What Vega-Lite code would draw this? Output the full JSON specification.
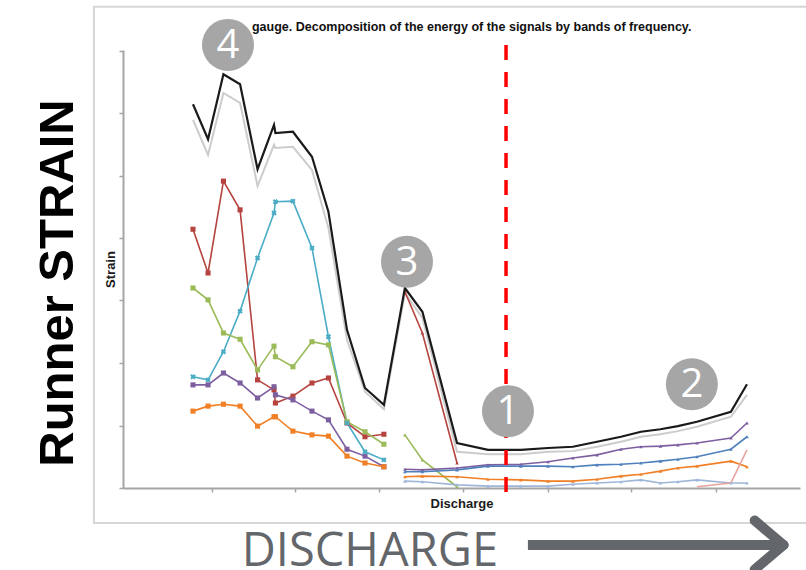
{
  "$schema": "https://vega.github.io/schema/vega-lite/v6.json",
  "width": 677,
  "height": 438,
  "autosize": {"type": "none"},
  "padding": {"left": 123, "top": 50, "right": 6, "bottom": 82},
  "background": "#ffffff",
  "config": {"view": {"stroke": null}, "font": "Liberation Sans"},
  "datasets": {
    "strain": [
      {"series": "Total", "part": 1, "discharge": 4.0, "strain": 6.14},
      {"series": "Total", "part": 1, "discharge": 4.86, "strain": 5.58},
      {"series": "Total", "part": 1, "discharge": 5.74, "strain": 6.62},
      {"series": "Total", "part": 1, "discharge": 6.69, "strain": 6.46},
      {"series": "Total", "part": 1, "discharge": 7.69, "strain": 5.10},
      {"series": "Total", "part": 1, "discharge": 8.63, "strain": 5.81},
      {"series": "Total", "part": 1, "discharge": 8.71, "strain": 5.68},
      {"series": "Total", "part": 1, "discharge": 9.71, "strain": 5.70},
      {"series": "Total", "part": 1, "discharge": 10.8, "strain": 5.30},
      {"series": "Total", "part": 1, "discharge": 11.74, "strain": 4.42},
      {"series": "Total", "part": 1, "discharge": 12.8, "strain": 2.53},
      {"series": "Total", "part": 1, "discharge": 13.83, "strain": 1.60},
      {"series": "Total", "part": 1, "discharge": 14.91, "strain": 1.33},
      {"series": "Total", "part": 2, "discharge": 16.11, "strain": 3.20},
      {"series": "Total", "part": 2, "discharge": 17.11, "strain": 2.82},
      {"series": "Total", "part": 2, "discharge": 19.09, "strain": 0.72},
      {"series": "Total", "part": 2, "discharge": 20.86, "strain": 0.61},
      {"series": "Total", "part": 2, "discharge": 22.74, "strain": 0.61},
      {"series": "Total", "part": 2, "discharge": 24.29, "strain": 0.64},
      {"series": "Total", "part": 2, "discharge": 25.71, "strain": 0.66},
      {"series": "Total", "part": 2, "discharge": 27.09, "strain": 0.74},
      {"series": "Total", "part": 2, "discharge": 28.46, "strain": 0.82},
      {"series": "Total", "part": 2, "discharge": 29.6, "strain": 0.90},
      {"series": "Total", "part": 2, "discharge": 30.71, "strain": 0.94},
      {"series": "Total", "part": 2, "discharge": 31.71, "strain": 0.99},
      {"series": "Total", "part": 2, "discharge": 32.8, "strain": 1.06},
      {"series": "Total", "part": 2, "discharge": 34.74, "strain": 1.22},
      {"series": "Total", "part": 2, "discharge": 35.66, "strain": 1.66},

      {"series": "Total, filtered", "part": 1, "discharge": 4.0, "strain": 5.89},
      {"series": "Total, filtered", "part": 1, "discharge": 4.86, "strain": 5.33},
      {"series": "Total, filtered", "part": 1, "discharge": 5.74, "strain": 6.32},
      {"series": "Total, filtered", "part": 1, "discharge": 6.69, "strain": 6.16},
      {"series": "Total, filtered", "part": 1, "discharge": 7.69, "strain": 4.83},
      {"series": "Total, filtered", "part": 1, "discharge": 8.63, "strain": 5.49},
      {"series": "Total, filtered", "part": 1, "discharge": 8.71, "strain": 5.44},
      {"series": "Total, filtered", "part": 1, "discharge": 9.71, "strain": 5.46},
      {"series": "Total, filtered", "part": 1, "discharge": 10.8, "strain": 5.09},
      {"series": "Total, filtered", "part": 1, "discharge": 11.74, "strain": 4.16},
      {"series": "Total, filtered", "part": 1, "discharge": 12.8, "strain": 2.37},
      {"series": "Total, filtered", "part": 1, "discharge": 13.83, "strain": 1.54},
      {"series": "Total, filtered", "part": 1, "discharge": 14.91, "strain": 1.26},
      {"series": "Total, filtered", "part": 2, "discharge": 16.11, "strain": 3.12},
      {"series": "Total, filtered", "part": 2, "discharge": 17.11, "strain": 2.72},
      {"series": "Total, filtered", "part": 2, "discharge": 19.09, "strain": 0.58},
      {"series": "Total, filtered", "part": 2, "discharge": 20.86, "strain": 0.54},
      {"series": "Total, filtered", "part": 2, "discharge": 22.74, "strain": 0.54},
      {"series": "Total, filtered", "part": 2, "discharge": 24.29, "strain": 0.58},
      {"series": "Total, filtered", "part": 2, "discharge": 25.71, "strain": 0.59},
      {"series": "Total, filtered", "part": 2, "discharge": 27.09, "strain": 0.66},
      {"series": "Total, filtered", "part": 2, "discharge": 28.46, "strain": 0.74},
      {"series": "Total, filtered", "part": 2, "discharge": 29.6, "strain": 0.82},
      {"series": "Total, filtered", "part": 2, "discharge": 30.71, "strain": 0.86},
      {"series": "Total, filtered", "part": 2, "discharge": 31.71, "strain": 0.91},
      {"series": "Total, filtered", "part": 2, "discharge": 32.8, "strain": 0.98},
      {"series": "Total, filtered", "part": 2, "discharge": 34.74, "strain": 1.14},
      {"series": "Total, filtered", "part": 2, "discharge": 35.66, "strain": 1.49},

      {"series": "Band 1", "part": 1, "discharge": 4.0, "strain": 4.14},
      {"series": "Band 1", "part": 1, "discharge": 4.86, "strain": 3.44},
      {"series": "Band 1", "part": 1, "discharge": 5.74, "strain": 4.91},
      {"series": "Band 1", "part": 1, "discharge": 6.69, "strain": 4.45},
      {"series": "Band 1", "part": 1, "discharge": 7.69, "strain": 1.73},
      {"series": "Band 1", "part": 1, "discharge": 8.63, "strain": 1.57},
      {"series": "Band 1", "part": 1, "discharge": 8.71, "strain": 1.36},
      {"series": "Band 1", "part": 1, "discharge": 9.71, "strain": 1.47},
      {"series": "Band 1", "part": 1, "discharge": 10.8, "strain": 1.68},
      {"series": "Band 1", "part": 1, "discharge": 11.74, "strain": 1.76},
      {"series": "Band 1", "part": 1, "discharge": 12.8, "strain": 1.04},
      {"series": "Band 1", "part": 1, "discharge": 13.83, "strain": 0.82},
      {"series": "Band 1", "part": 1, "discharge": 14.91, "strain": 0.86},
      {"series": "Band 1", "part": 2, "discharge": 16.11, "strain": 3.14},
      {"series": "Band 1", "part": 2, "discharge": 17.11, "strain": 2.48},
      {"series": "Band 1", "part": 2, "discharge": 19.09, "strain": 0.40},

      {"series": "Band 2", "part": 1, "discharge": 4.0, "strain": 1.78},
      {"series": "Band 2", "part": 1, "discharge": 4.86, "strain": 1.73},
      {"series": "Band 2", "part": 1, "discharge": 5.74, "strain": 2.18},
      {"series": "Band 2", "part": 1, "discharge": 6.69, "strain": 2.83},
      {"series": "Band 2", "part": 1, "discharge": 7.69, "strain": 3.68},
      {"series": "Band 2", "part": 1, "discharge": 8.63, "strain": 4.40},
      {"series": "Band 2", "part": 1, "discharge": 8.71, "strain": 4.58},
      {"series": "Band 2", "part": 1, "discharge": 9.71, "strain": 4.59},
      {"series": "Band 2", "part": 1, "discharge": 10.8, "strain": 3.84},
      {"series": "Band 2", "part": 1, "discharge": 11.74, "strain": 2.42},
      {"series": "Band 2", "part": 1, "discharge": 12.8, "strain": 1.04},
      {"series": "Band 2", "part": 1, "discharge": 13.83, "strain": 0.58},
      {"series": "Band 2", "part": 1, "discharge": 14.91, "strain": 0.45},

      {"series": "Band 3", "part": 1, "discharge": 4.0, "strain": 3.20},
      {"series": "Band 3", "part": 1, "discharge": 4.86, "strain": 3.01},
      {"series": "Band 3", "part": 1, "discharge": 5.74, "strain": 2.48},
      {"series": "Band 3", "part": 1, "discharge": 6.69, "strain": 2.38},
      {"series": "Band 3", "part": 1, "discharge": 7.69, "strain": 1.89},
      {"series": "Band 3", "part": 1, "discharge": 8.63, "strain": 2.27},
      {"series": "Band 3", "part": 1, "discharge": 8.71, "strain": 2.10},
      {"series": "Band 3", "part": 1, "discharge": 9.71, "strain": 1.94},
      {"series": "Band 3", "part": 1, "discharge": 10.8, "strain": 2.34},
      {"series": "Band 3", "part": 1, "discharge": 11.74, "strain": 2.29},
      {"series": "Band 3", "part": 1, "discharge": 12.8, "strain": 1.06},
      {"series": "Band 3", "part": 1, "discharge": 13.83, "strain": 0.90},
      {"series": "Band 3", "part": 1, "discharge": 14.91, "strain": 0.70},
      {"series": "Band 3", "part": 2, "discharge": 16.11, "strain": 0.85},
      {"series": "Band 3", "part": 2, "discharge": 17.11, "strain": 0.45},
      {"series": "Band 3", "part": 2, "discharge": 19.09, "strain": 0.02},

      {"series": "Band 4", "part": 1, "discharge": 4.0, "strain": 1.65},
      {"series": "Band 4", "part": 1, "discharge": 4.86, "strain": 1.65},
      {"series": "Band 4", "part": 1, "discharge": 5.74, "strain": 1.84},
      {"series": "Band 4", "part": 1, "discharge": 6.69, "strain": 1.68},
      {"series": "Band 4", "part": 1, "discharge": 7.69, "strain": 1.44},
      {"series": "Band 4", "part": 1, "discharge": 8.63, "strain": 1.62},
      {"series": "Band 4", "part": 1, "discharge": 8.71, "strain": 1.49},
      {"series": "Band 4", "part": 1, "discharge": 9.71, "strain": 1.41},
      {"series": "Band 4", "part": 1, "discharge": 10.8, "strain": 1.23},
      {"series": "Band 4", "part": 1, "discharge": 11.74, "strain": 1.09},
      {"series": "Band 4", "part": 1, "discharge": 12.8, "strain": 0.62},
      {"series": "Band 4", "part": 1, "discharge": 13.83, "strain": 0.51},
      {"series": "Band 4", "part": 1, "discharge": 14.91, "strain": 0.34},
      {"series": "Band 4", "part": 2, "discharge": 16.11, "strain": 0.30},
      {"series": "Band 4", "part": 2, "discharge": 17.11, "strain": 0.29},
      {"series": "Band 4", "part": 2, "discharge": 19.09, "strain": 0.32},
      {"series": "Band 4", "part": 2, "discharge": 20.86, "strain": 0.37},
      {"series": "Band 4", "part": 2, "discharge": 22.74, "strain": 0.38},
      {"series": "Band 4", "part": 2, "discharge": 24.29, "strain": 0.42},
      {"series": "Band 4", "part": 2, "discharge": 25.71, "strain": 0.48},
      {"series": "Band 4", "part": 2, "discharge": 27.09, "strain": 0.53},
      {"series": "Band 4", "part": 2, "discharge": 28.46, "strain": 0.62},
      {"series": "Band 4", "part": 2, "discharge": 29.6, "strain": 0.66},
      {"series": "Band 4", "part": 2, "discharge": 30.71, "strain": 0.67},
      {"series": "Band 4", "part": 2, "discharge": 31.71, "strain": 0.69},
      {"series": "Band 4", "part": 2, "discharge": 32.8, "strain": 0.72},
      {"series": "Band 4", "part": 2, "discharge": 34.74, "strain": 0.80},
      {"series": "Band 4", "part": 2, "discharge": 35.66, "strain": 1.04},

      {"series": "Band 5", "part": 1, "discharge": 4.0, "strain": 1.23},
      {"series": "Band 5", "part": 1, "discharge": 4.86, "strain": 1.31},
      {"series": "Band 5", "part": 1, "discharge": 5.74, "strain": 1.34},
      {"series": "Band 5", "part": 1, "discharge": 6.69, "strain": 1.31},
      {"series": "Band 5", "part": 1, "discharge": 7.69, "strain": 0.99},
      {"series": "Band 5", "part": 1, "discharge": 8.63, "strain": 1.14},
      {"series": "Band 5", "part": 1, "discharge": 8.71, "strain": 1.14},
      {"series": "Band 5", "part": 1, "discharge": 9.71, "strain": 0.91},
      {"series": "Band 5", "part": 1, "discharge": 10.8, "strain": 0.85},
      {"series": "Band 5", "part": 1, "discharge": 11.74, "strain": 0.83},
      {"series": "Band 5", "part": 1, "discharge": 12.8, "strain": 0.51},
      {"series": "Band 5", "part": 1, "discharge": 13.83, "strain": 0.40},
      {"series": "Band 5", "part": 1, "discharge": 14.91, "strain": 0.34},
      {"series": "Band 5", "part": 2, "discharge": 16.11, "strain": 0.18},
      {"series": "Band 5", "part": 2, "discharge": 17.11, "strain": 0.19},
      {"series": "Band 5", "part": 2, "discharge": 19.09, "strain": 0.18},
      {"series": "Band 5", "part": 2, "discharge": 20.86, "strain": 0.14},
      {"series": "Band 5", "part": 2, "discharge": 22.74, "strain": 0.13},
      {"series": "Band 5", "part": 2, "discharge": 24.29, "strain": 0.11},
      {"series": "Band 5", "part": 2, "discharge": 25.71, "strain": 0.11},
      {"series": "Band 5", "part": 2, "discharge": 27.09, "strain": 0.14},
      {"series": "Band 5", "part": 2, "discharge": 28.46, "strain": 0.19},
      {"series": "Band 5", "part": 2, "discharge": 29.6, "strain": 0.22},
      {"series": "Band 5", "part": 2, "discharge": 30.71, "strain": 0.27},
      {"series": "Band 5", "part": 2, "discharge": 31.71, "strain": 0.32},
      {"series": "Band 5", "part": 2, "discharge": 32.8, "strain": 0.35},
      {"series": "Band 5", "part": 2, "discharge": 34.74, "strain": 0.43},
      {"series": "Band 5", "part": 2, "discharge": 35.66, "strain": 0.34},

      {"series": "Band 6", "part": 2, "discharge": 16.11, "strain": 0.26},
      {"series": "Band 6", "part": 2, "discharge": 17.11, "strain": 0.26},
      {"series": "Band 6", "part": 2, "discharge": 19.09, "strain": 0.29},
      {"series": "Band 6", "part": 2, "discharge": 20.86, "strain": 0.35},
      {"series": "Band 6", "part": 2, "discharge": 22.74, "strain": 0.35},
      {"series": "Band 6", "part": 2, "discharge": 24.29, "strain": 0.35},
      {"series": "Band 6", "part": 2, "discharge": 25.71, "strain": 0.34},
      {"series": "Band 6", "part": 2, "discharge": 27.09, "strain": 0.37},
      {"series": "Band 6", "part": 2, "discharge": 28.46, "strain": 0.38},
      {"series": "Band 6", "part": 2, "discharge": 29.6, "strain": 0.40},
      {"series": "Band 6", "part": 2, "discharge": 30.71, "strain": 0.43},
      {"series": "Band 6", "part": 2, "discharge": 31.71, "strain": 0.46},
      {"series": "Band 6", "part": 2, "discharge": 32.8, "strain": 0.50},
      {"series": "Band 6", "part": 2, "discharge": 34.74, "strain": 0.62},
      {"series": "Band 6", "part": 2, "discharge": 35.66, "strain": 0.82},

      {"series": "Band 7", "part": 2, "discharge": 16.11, "strain": 0.11},
      {"series": "Band 7", "part": 2, "discharge": 17.11, "strain": 0.10},
      {"series": "Band 7", "part": 2, "discharge": 19.09, "strain": 0.05},
      {"series": "Band 7", "part": 2, "discharge": 20.86, "strain": 0.03},
      {"series": "Band 7", "part": 2, "discharge": 22.74, "strain": 0.03},
      {"series": "Band 7", "part": 2, "discharge": 24.29, "strain": 0.03},
      {"series": "Band 7", "part": 2, "discharge": 25.71, "strain": 0.06},
      {"series": "Band 7", "part": 2, "discharge": 27.09, "strain": 0.08},
      {"series": "Band 7", "part": 2, "discharge": 28.46, "strain": 0.10},
      {"series": "Band 7", "part": 2, "discharge": 29.6, "strain": 0.13},
      {"series": "Band 7", "part": 2, "discharge": 30.71, "strain": 0.08},
      {"series": "Band 7", "part": 2, "discharge": 31.71, "strain": 0.10},
      {"series": "Band 7", "part": 2, "discharge": 32.8, "strain": 0.13},
      {"series": "Band 7", "part": 2, "discharge": 34.74, "strain": 0.08},
      {"series": "Band 7", "part": 2, "discharge": 35.66, "strain": 0.08},

      {"series": "Band 8", "part": 2, "discharge": 32.8, "strain": 0.02},
      {"series": "Band 8", "part": 2, "discharge": 34.74, "strain": 0.08},
      {"series": "Band 8", "part": 2, "discharge": 35.66, "strain": 0.61}
    ],
    "callouts": [
      {"label": "4", "discharge": 6.0, "strain": 7.09},
      {"label": "3", "discharge": 16.23, "strain": 3.62},
      {"label": "1", "discharge": 22.0, "strain": 1.23},
      {"label": "2", "discharge": 32.51, "strain": 1.66}
    ]
  },
  "layer": [
    {
      "data": {"values": [{}]},
      "mark": {"type": "rect", "fill": "#ffffff", "fillOpacity": 0, "stroke": "#d6d6d6", "strokeWidth": 2},
      "encoding": {
        "x": {"datum": -1.66},
        "x2": {"datum": 40},
        "y": {"datum": 7.7},
        "y2": {"datum": -0.56}
      }
    },
    {
      "data": {"name": "strain"},
      "transform": [{"filter": "datum.series == 'Total, filtered'"}],
      "mark": {"type": "line", "color": "#cccccc", "strokeWidth": 2},
      "encoding": {
        "x": {
          "field": "discharge",
          "type": "quantitative",
          "scale": {"domain": [0, 38.69], "nice": false, "zero": false},
          "axis": {
            "title": "Discharge",
            "titleFont": "Liberation Sans",
            "titleFontSize": 13,
            "titleFontWeight": "bold",
            "titleColor": "#1a1a1a",
            "titlePadding": 5,
            "labels": false,
            "grid": false,
            "domainColor": "#a6a6a6",
            "domainWidth": 2,
            "tickColor": "#a6a6a6",
            "tickSize": 4,
            "tickWidth": 1.5,
            "values": [5.1, 9.85, 14.65, 19.45, 24.3, 29.05, 33.9]
          }
        },
        "y": {
          "field": "strain",
          "type": "quantitative",
          "scale": {"domain": [0, 7.008], "nice": false, "zero": false},
          "axis": {
            "title": "Strain",
            "titleFont": "Liberation Sans",
            "titleFontSize": 13,
            "titleFontWeight": "bold",
            "titleColor": "#1a1a1a",
            "titlePadding": 1,
            "labels": false,
            "grid": false,
            "domainColor": "#a6a6a6",
            "domainWidth": 2,
            "tickColor": "#a6a6a6",
            "tickSize": 4,
            "tickWidth": 1.5,
            "values": [0, 1, 2, 3, 4, 5, 6, 7]
          }
        }
      }
    },
    {
      "data": {"name": "strain"},
      "transform": [{"filter": "indexof(datum.series, 'Band') == 0"}],
      "mark": {"type": "line", "strokeWidth": 1.6},
      "encoding": {
        "x": {"field": "discharge", "type": "quantitative"},
        "y": {"field": "strain", "type": "quantitative"},
        "color": {
          "field": "series",
          "type": "nominal",
          "legend": null,
          "scale": {
            "domain": ["Band 1", "Band 2", "Band 3", "Band 4", "Band 5", "Band 6", "Band 7", "Band 8"],
            "range": ["#b5443f", "#4bacc6", "#9bbb59", "#7d5fa0", "#f07f26", "#4f81bd", "#9fb6d8", "#e8a39e"]
          }
        },
        "detail": {"field": "part", "type": "nominal"}
      }
    },
    {
      "data": {"name": "strain"},
      "transform": [{"filter": "indexof(datum.series, 'Band') == 0 && datum.part == 1 && datum.series != 'Band 2'"}],
      "mark": {"type": "point", "shape": "square", "filled": true, "size": 26, "opacity": 1},
      "encoding": {
        "x": {"field": "discharge", "type": "quantitative"},
        "y": {"field": "strain", "type": "quantitative"},
        "color": {"field": "series", "type": "nominal", "legend": null}
      }
    },
    {
      "data": {"name": "strain"},
      "transform": [{"filter": "datum.series == 'Band 2'"}],
      "mark": {"type": "point", "shape": "cross", "angle": 45, "filled": true, "size": 30, "opacity": 1},
      "encoding": {
        "x": {"field": "discharge", "type": "quantitative"},
        "y": {"field": "strain", "type": "quantitative"},
        "color": {"field": "series", "type": "nominal", "legend": null}
      }
    },
    {
      "data": {"name": "strain"},
      "transform": [{"filter": "indexof(datum.series, 'Band') == 0 && datum.part == 2 && datum.series != 'Band 8'"}],
      "mark": {"type": "point", "shape": "triangle-up", "filled": true, "size": 14, "opacity": 1},
      "encoding": {
        "x": {"field": "discharge", "type": "quantitative"},
        "y": {"field": "strain", "type": "quantitative"},
        "color": {"field": "series", "type": "nominal", "legend": null}
      }
    },
    {
      "data": {"name": "strain"},
      "transform": [{"filter": "datum.series == 'Total'"}],
      "mark": {"type": "line", "color": "#1a1a1a", "strokeWidth": 2.2},
      "encoding": {
        "x": {"field": "discharge", "type": "quantitative"},
        "y": {"field": "strain", "type": "quantitative"}
      }
    },
    {
      "data": {"values": [{}]},
      "mark": {"type": "rule", "color": "#ff0000", "strokeWidth": 3.5, "strokeDash": [15, 12]},
      "encoding": {
        "x": {"datum": 21.89},
        "y": {"datum": 7.09},
        "y2": {"datum": -0.11}
      }
    },
    {
      "data": {"values": [{}]},
      "mark": {
        "type": "text",
        "text": "gauge. Decomposition of the energy of the signals by bands of frequency.",
        "align": "left",
        "baseline": "alphabetic",
        "font": "Liberation Sans",
        "fontSize": 12.5,
        "fontWeight": "bold",
        "color": "#111111"
      },
      "encoding": {
        "x": {"datum": 7.37},
        "y": {"datum": 7.31}
      }
    },
    {
      "data": {"name": "callouts"},
      "mark": {"type": "point", "shape": "circle", "filled": true, "size": 2704, "color": "#a6a6a6", "opacity": 1},
      "encoding": {
        "x": {"field": "discharge", "type": "quantitative"},
        "y": {"field": "strain", "type": "quantitative"}
      }
    },
    {
      "data": {"name": "callouts"},
      "mark": {"type": "text", "color": "#ffffff", "font": "Open Sans", "fontSize": 40, "baseline": "middle", "align": "center", "dy": 1},
      "encoding": {
        "x": {"field": "discharge", "type": "quantitative"},
        "y": {"field": "strain", "type": "quantitative"},
        "text": {"field": "label"}
      }
    },
    {
      "data": {"values": [{}]},
      "mark": {
        "type": "text",
        "text": "Runner STRAIN",
        "angle": 270,
        "align": "center",
        "baseline": "alphabetic",
        "font": "Liberation Sans",
        "fontSize": 49,
        "fontWeight": "bold",
        "color": "#000000"
      },
      "encoding": {
        "x": {"datum": -2.857},
        "y": {"datum": 3.28}
      }
    },
    {
      "data": {"values": [{}]},
      "mark": {
        "type": "text",
        "text": "DISCHARGE",
        "align": "center",
        "baseline": "alphabetic",
        "font": "Open Sans",
        "fontSize": 47,
        "color": "#63666a"
      },
      "encoding": {
        "x": {"datum": 14.11},
        "y": {"datum": -1.248}
      }
    },
    {
      "data": {"values": [{}]},
      "mark": {"type": "rule", "color": "#63666a", "strokeWidth": 10, "strokeCap": "butt"},
      "encoding": {
        "x": {"datum": 23.14},
        "x2": {"datum": 37.5},
        "y": {"datum": -0.912}
      }
    },
    {
      "data": {"values": [{}]},
      "mark": {"type": "rule", "color": "#63666a", "strokeWidth": 10, "strokeCap": "round"},
      "encoding": {
        "x": {"datum": 36.1},
        "y": {"datum": -0.52},
        "x2": {"datum": 37.75},
        "y2": {"datum": -0.912}
      }
    },
    {
      "data": {"values": [{}]},
      "mark": {"type": "rule", "color": "#63666a", "strokeWidth": 10, "strokeCap": "round"},
      "encoding": {
        "x": {"datum": 36.1},
        "y": {"datum": -1.304},
        "x2": {"datum": 37.75},
        "y2": {"datum": -0.912}
      }
    }
  ]
}
